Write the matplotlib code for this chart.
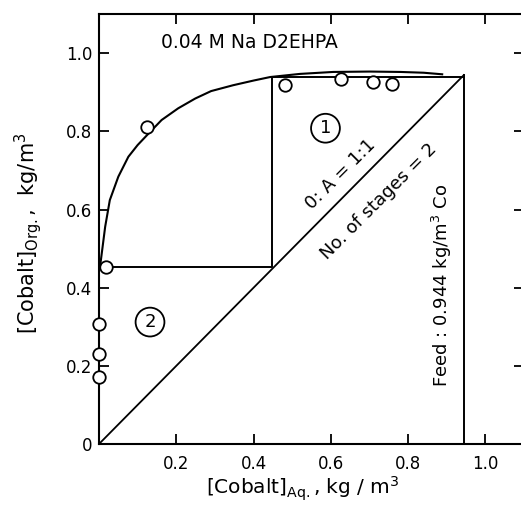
import matplotlib.pyplot as plt
import numpy as np

# equilibrium isotherm (drawn curve)
curve_x = [0.002, 0.005, 0.016, 0.028, 0.05, 0.076, 0.1, 0.124, 0.162, 0.205, 0.249,
           0.29, 0.347, 0.4, 0.443, 0.52, 0.606, 0.7, 0.78, 0.84, 0.888]
curve_y = [0.45, 0.471, 0.556, 0.624, 0.684, 0.735, 0.765, 0.79, 0.829, 0.859, 0.884,
           0.903, 0.918, 0.93, 0.939, 0.947, 0.952, 0.953, 0.952, 0.95, 0.946]

# experimental points
pts_x = [0.0, 0.0, 0.0, 0.018, 0.124, 0.48, 0.626, 0.709, 0.758]
pts_y = [0.171, 0.23, 0.307, 0.453, 0.811, 0.918, 0.933, 0.927, 0.92]

feed = 0.944
# McCabe-Thiele steps
step_x = [feed, 0.447, 0.447, 0.002]
step_y = [0.94, 0.94, 0.453, 0.453]

ticks = [0, 0.2, 0.4, 0.6, 0.8, 1.0]
y_labels = ["0", "0.2", "0.4", "0.6", "0.8", "1.0"]
x_labels = ["", "0.2", "0.4", "0.6", "0.8", "1.0"]

fig = plt.figure(figsize=(5.21, 5.13), dpi=100)
ax = fig.add_axes([0.190, 0.1345, 0.816, 0.838])

ax.plot(curve_x, curve_y, 'k-', lw=1.5)
ax.plot([0, feed], [0, feed], 'k-', lw=1.3)
ax.plot([feed, feed], [0, feed], 'k-', lw=1.4)
ax.plot(step_x, step_y, 'k-', lw=1.4)
ax.plot(pts_x, pts_y, 'o', mfc='white', mec='k', ms=9, mew=1.3, clip_on=False, zorder=5)

ax.set_xlim(0, 1.1)
ax.set_ylim(0, 1.1)
ax.set_xticks(ticks)
ax.set_xticklabels(x_labels)
ax.set_yticks(ticks)
ax.set_yticklabels(y_labels)
ax.tick_params(direction='in', length=7, width=1.3, top=True, right=True, labelsize=12)
ax.tick_params(axis='x', pad=8)
ax.tick_params(axis='y', pad=5)
for s in ax.spines.values():
    s.set_linewidth(1.5)

ax.text(0.389, 1.028, "0.04 M Na D2EHPA", fontsize=13.5, ha='center', va='center')
ax.text(0.586, 0.808, "1", fontsize=13, ha='center', va='center',
        bbox=dict(boxstyle='circle,pad=0.3', fc='white', ec='k', lw=1.3))
ax.text(0.132, 0.312, "2", fontsize=13, ha='center', va='center',
        bbox=dict(boxstyle='circle,pad=0.3', fc='white', ec='k', lw=1.3))
ax.text(0.625, 0.69, "0: A = 1:1", fontsize=13, rotation=45, ha='center', va='center')
ax.text(0.725, 0.62, "No. of stages = 2", fontsize=13, rotation=45, ha='center', va='center')
ax.text(0.888, 0.405, "Feed : 0.944 kg/m$^3$ Co", fontsize=13, rotation=90, ha='center', va='center')

ax.set_xlabel("[Cobalt]$_{\\mathrm{Aq.}}$, kg / m$^3$", fontsize=14.5)
ax.xaxis.set_label_coords(0.48, -0.072)
ax.set_ylabel("[Cobalt]$_{\\mathrm{Org.}}$,  kg/m$^3$", fontsize=15)
ax.yaxis.set_label_coords(-0.13, 0.49)

plt.savefig('out.png')
